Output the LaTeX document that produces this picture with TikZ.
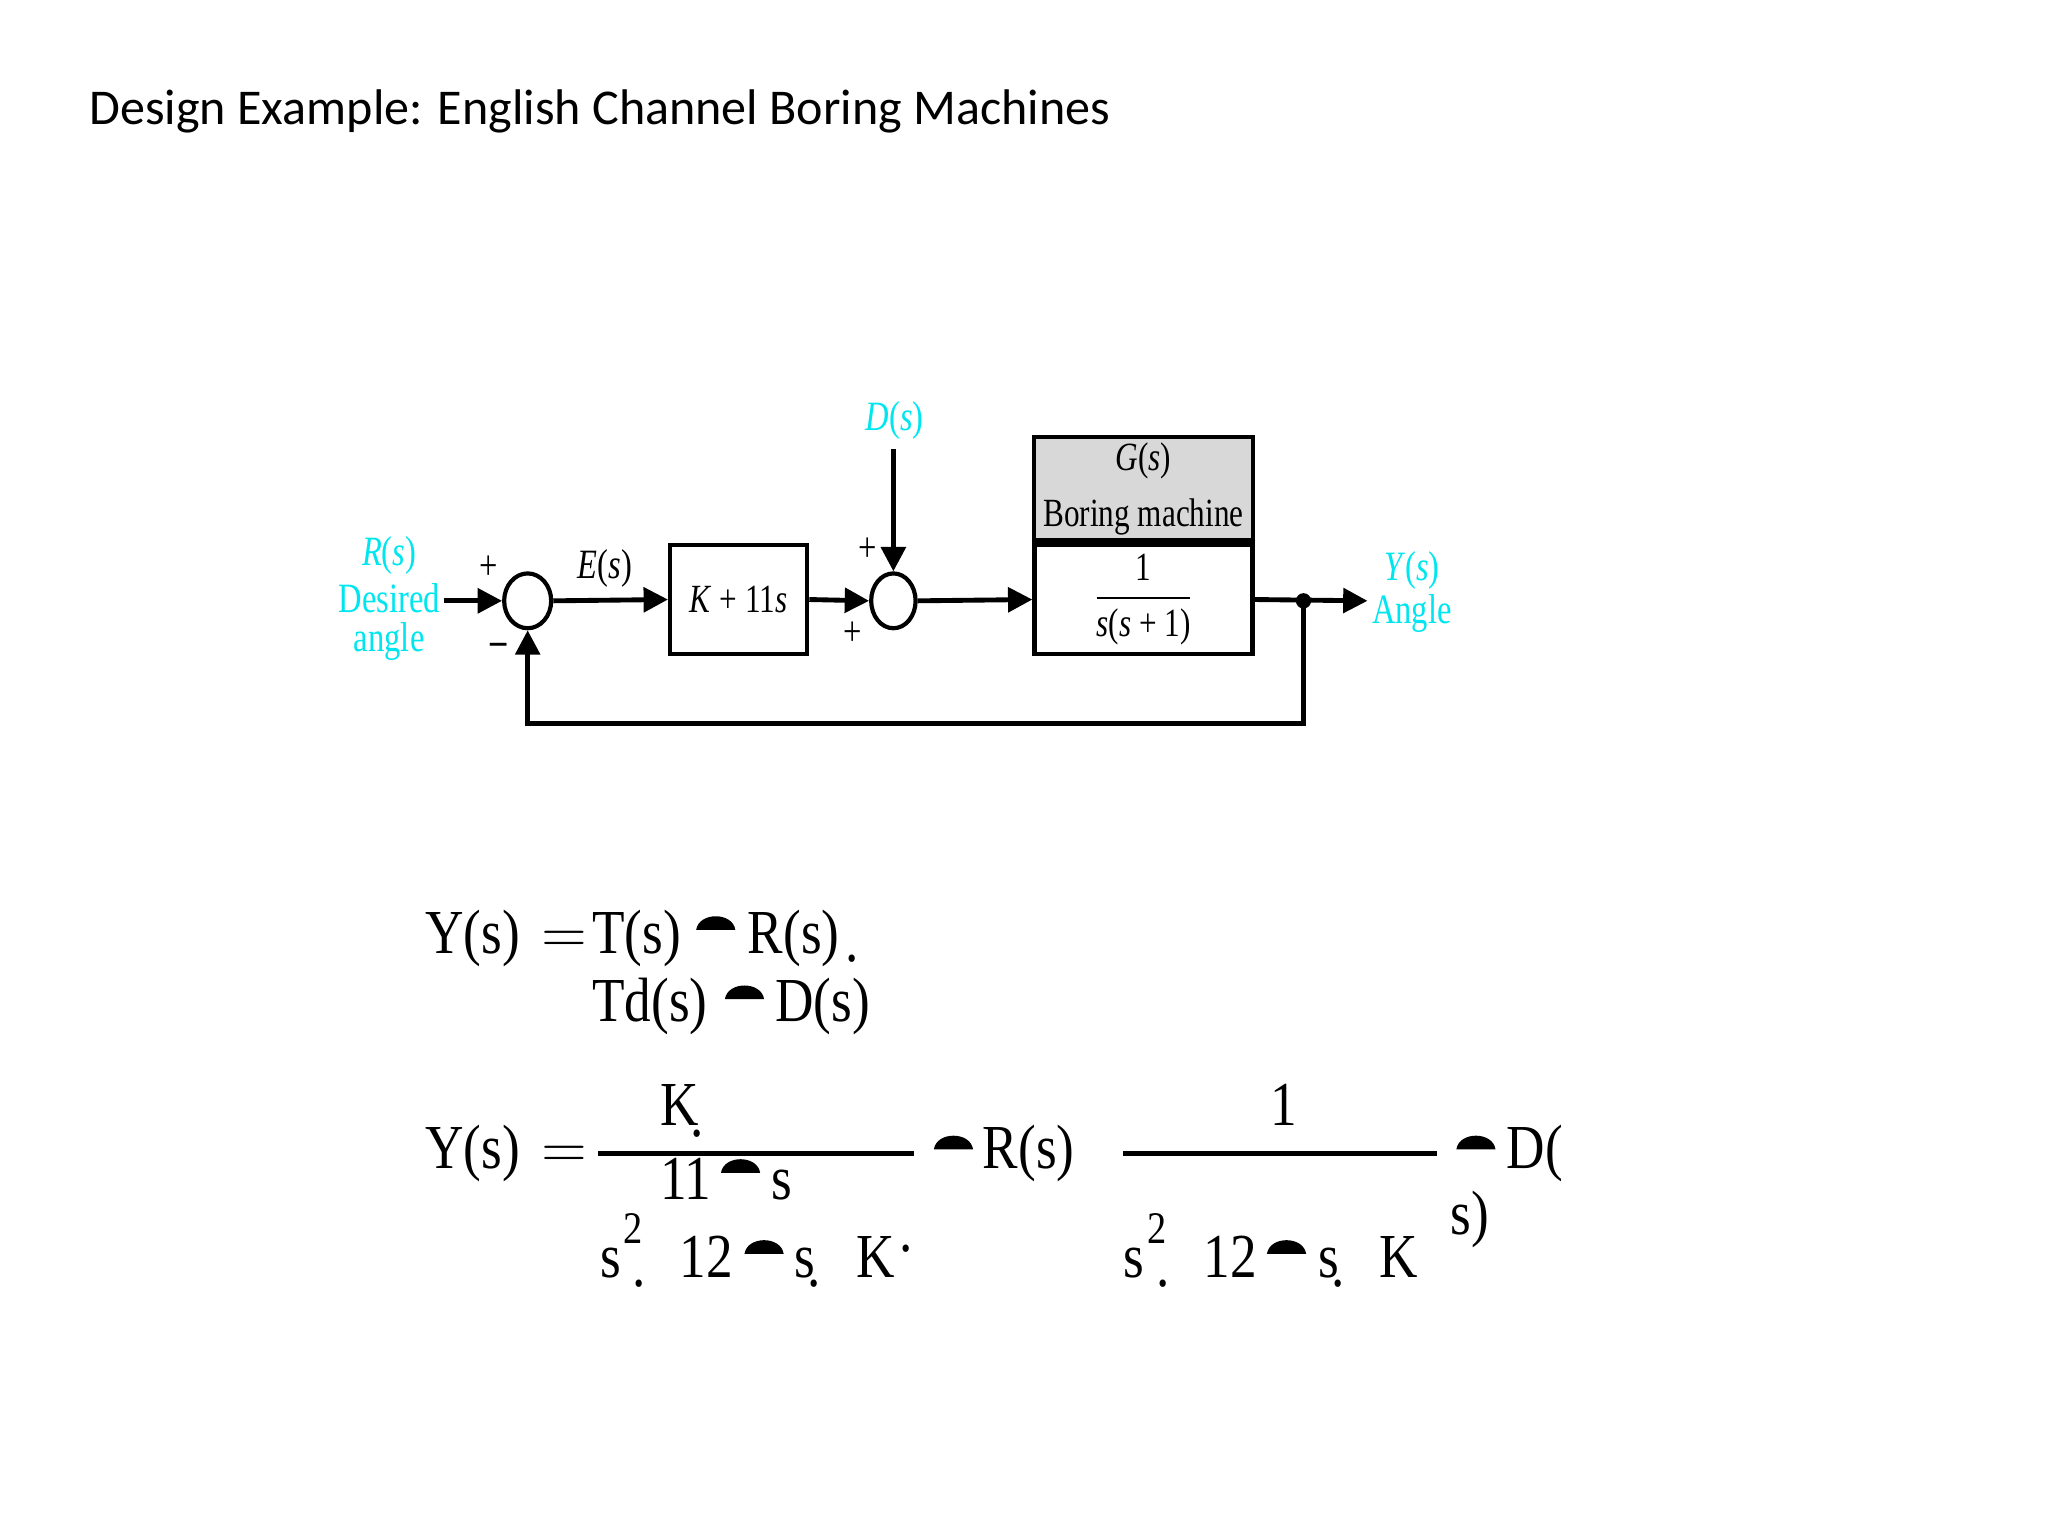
\documentclass[tikz,border=0pt]{standalone}
\usepackage{fontspec}
\setmainfont{Liberation Serif}
\newfontfamily\titlefont{Carlito}
\newfontfamily\narrow{Liberation Serif}[FakeStretch=0.78]
\newfontfamily\eqfont{Liberation Serif}[FakeStretch=0.85]
\usetikzlibrary{arrows.meta,shapes.geometric}
\definecolor{cyanlbl}{RGB}{0,230,240}
\definecolor{gboxgray}{RGB}{216,216,216}
\newcommand{\blob}[2]{\fill (#1,#2) .. controls (#1+2,#2-14) and (#1+28,#2-14) .. (#1+30,#2) -- cycle;}
\begin{document}
\begin{tikzpicture}[x=0.0132cm,y=-0.0132cm]
        \tikzstyle{blk}=[draw=black, line width=1.2pt, inner sep=0pt, font=\narrow\fontsize{11.5}{13}\selectfont]
        \tikzstyle{sum}=[ellipse, draw=black, line width=1.2pt, minimum height=0.554cm, inner sep=0pt]
        \tikzstyle{sig}=[line width=1.4pt, -{Triangle[length=7pt,width=7pt]}]
        \tikzstyle{lbl}=[font=\narrow\fontsize{12}{13}\selectfont, inner sep=0pt]
        \tikzstyle{cy}=[lbl, text=cyanlbl]
        \tikzstyle{eq}=[anchor=base west, inner sep=0pt, font=\eqfont\fontsize{18}{20}\selectfont]
        \tikzstyle{sup}=[anchor=base west, inner sep=0pt, font=\eqfont\fontsize{13}{14}\selectfont]
        \tikzstyle{eqs}=[anchor=base west, inner sep=0pt, font=\sffamily\fontsize{18}{20}\selectfont]
        \useasboundingbox (0,0) rectangle (1568,1176);

        % Title
        \node[anchor=base west, inner sep=0pt, font=\titlefont\fontsize{14.4}{17}\selectfont] (title) at (68,95) {Design Example: English Channel Boring Machines};

        % Nodes
        \node[sum, minimum width=0.475cm] (s1) at (404,460) {};
        \node[sum, minimum width=0.449cm] (s2) at (684,460) {};
        \node[blk, minimum width=1.386cm, minimum height=1.109cm] (ctrl) at (565.5,459) {\textit{K} + 11\textit{s}};
        \node[blk, minimum width=2.204cm, minimum height=1.109cm] (plant) at (875.5,459) {$\displaystyle\frac{\mbox{1}}{\mbox{\textit{s}(\textit{s} + 1)}}$};
        \node[blk, fill=gboxgray, minimum width=2.218cm, minimum height=1.043cm, align=center, anchor=south] (gbox) at (plant.north) {\textit{G}(\textit{s})\\[3pt] Boring machine};
        \coordinate (rin) at (340,460);
        \coordinate (dtop) at (684,344);
        \coordinate (yout) at (1047,460);
        \coordinate (br) at (998,460);
        \coordinate (fb1) at (998,554);
        \coordinate (fb2) at (404,554);
        \fill (br) circle (2.2pt);

        % Labels
        \node[cy] (rlbl) at (298,425) {\textit{R}(\textit{s})};
        \node[cy] (rdes) at (298,458) {Desired};
        \node[cy] (rang) at (298,491) {angle};
        \node[cy] (ylbl) at (1081,437) {\textit{Y}(\textit{s})};
        \node[cy] (yang) at (1081,470) {Angle};
        \node[cy] (dlbl) at (685,322) {\textit{D}(\textit{s})};
        \node[lbl] (elbl) at (463,435) {\textit{E}(\textit{s})};
        \node[lbl] (p1) at (374,435) {+};
        \node[lbl] (m1) at (382,497) {\textbf{–}};
        \node[lbl] (p2) at (664,421) {+};
        \node[lbl] (p3) at (653,485) {+};

        % Edges
        \draw[sig] (rin) -- (s1.west);
        \draw[sig] (s1.east) -- (ctrl.west);
        \draw[sig] (ctrl.east) -- (s2.west);
        \draw[sig] (dtop) -- (s2.north);
        \draw[sig] (s2.east) -- (plant.west);
        \draw[sig] (plant.east) -- (yout);
        \draw[sig] (br) -- (fb1) -- (fb2) -- (s1.south);

        % Equations
        \node[eq] (y1) at (325,730) {Y(s)};
        \node[eqs] (e1) at (414,730) {=};
        \node[eq] (t1) at (453,730) {T(s)};
        \blob{533}{712}
        \node[eq] (r1) at (572,730) {R(s)};
        \node[eq] (dt1) at (647,736) {.};
        \node[eq] (t2) at (453,782) {Td(s)};
        \blob{555}{765}
        \node[eq] (d2) at (593,782) {D(s)};

        \node[eq] (y3) at (325,895) {Y(s)};
        \node[eqs] (e3) at (414,895) {=};
        \draw[line width=1.6pt] (458,883) -- (700,883);
        \node[eq] (k3) at (505,862) {K};
        \node[eq] (dk3) at (528,870) {.};
        \node[eq] (n3) at (505,918) {11};
        \blob{552}{898}
        \node[eq] (s3) at (590,918) {s};
        \node[eq] (b3s) at (459,978) {s};
        \node[sup] (b3p) at (477,952) {2};
        \node[eq] (b3d) at (484,985) {.};
        \node[eq] (b3n) at (520,978) {12};
        \blob{570}{960}
        \node[eq] (b3t) at (608,978) {s};
        \node[eq] (b3e) at (618,985) {.};
        \node[eq] (b3k) at (655,978) {K};
        \node[eq] (b3q) at (688,958) {.};
        \blob{715}{880}
        \node[eq] (r3) at (752,895) {R(s)};
        \draw[line width=1.6pt] (860,883) -- (1100,883);
        \node[eq] (o3) at (972,862) {1};
        \blob{1115}{880}
        \node[eq] (d3) at (1153,895) {D(};
        \node[eq] (d3b) at (1110,945) {s)};
        \node[eq] (b4s) at (860,978) {s};
        \node[sup] (b4p) at (878,952) {2};
        \node[eq] (b4d) at (885,985) {.};
        \node[eq] (b4n) at (921,978) {12};
        \blob{970}{960}
        \node[eq] (b4t) at (1009,978) {s};
        \node[eq] (b4e) at (1019,985) {.};
        \node[eq] (b4k) at (1056,978) {K};
\end{tikzpicture}
\end{document}
